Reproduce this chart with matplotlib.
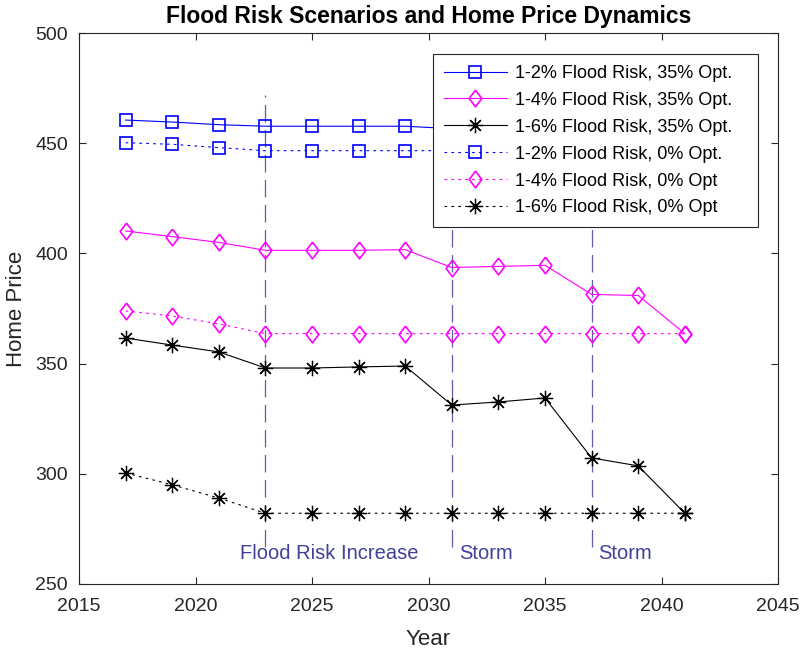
import matplotlib
matplotlib.use("Agg")
import matplotlib.pyplot as plt

plt.rcParams['font.family'] = ['Liberation Sans', 'DejaVu Sans']

years = [2017, 2019, 2021, 2023, 2025, 2027, 2029, 2031, 2033, 2035, 2037, 2039, 2041]

# 35% optimism scenarios
risk2_opt35 = [460.5, 459.6, 458.4, 457.7, 457.7, 457.7, 457.7, 456.6, 456.6, 456.7, 451.5, 451.3, 446.6]
risk4_opt35 = [410.2, 407.6, 405.0, 401.4, 401.4, 401.4, 401.7, 393.6, 394.1, 394.6, 381.4, 380.9, 363.6]
risk6_opt35 = [361.6, 358.4, 355.3, 348.0, 348.0, 348.5, 348.9, 331.2, 332.6, 334.4, 307.2, 303.6, 282.1]

# 0% optimism scenarios
risk2_opt0 = [450.2, 449.5, 448.0, 446.6, 446.6, 446.6, 446.6, 446.6, 446.6, 446.6, 446.6, 446.6, 446.6]
risk4_opt0 = [373.9, 371.6, 368.0, 363.6, 363.6, 363.6, 363.6, 363.6, 363.6, 363.6, 363.6, 363.6, 363.6]
risk6_opt0 = [300.4, 295.0, 289.0, 282.1, 282.1, 282.1, 282.1, 282.1, 282.1, 282.1, 282.1, 282.1, 282.1]

labels = ['1-2% Flood Risk, 35% Opt.', '1-4% Flood Risk, 35% Opt.', '1-6% Flood Risk, 35% Opt.',
          '1-2% Flood Risk, 0% Opt.', '1-4% Flood Risk, 0% Opt', '1-6% Flood Risk, 0% Opt']

event_years = [2023, 2031, 2037]
event_texts = ['Flood Risk Increase', 'Storm', 'Storm']
event_text_x = [2021.9, 2031.3, 2037.3]
event_span = (267, 472)
event_text_y = 264

axis_grey = '#262626'
event_color = '#40409a'
diamond = [(0, 1), (0.76, 0), (0, -1), (-0.76, 0), (0, 1)]
star = (8, 2, 0)
dotted = (0, (2.4, 3.8))

fig = plt.figure(figsize=(8.01, 6.54), dpi=100)
ax = fig.add_axes([79 / 801, 1 - 584 / 654, (778 - 79) / 801, (584 - 33) / 654])

for yr in event_years:
    ax.plot([yr, yr], event_span, color=event_color, lw=0.9, linestyle=(0, (14, 6)), alpha=0.85, zorder=1)

styles = [
    (risk2_opt35, 'blue', 's', 8, '-', 1.2),
    (risk4_opt35, 'magenta', diamond, 12, '-', 1.2),
    (risk6_opt35, 'black', star, 11, '-', 0.9),
    (risk2_opt0, 'blue', 's', 8, dotted, 1.2),
    (risk4_opt0, 'magenta', diamond, 12, dotted, 1.2),
    (risk6_opt0, 'black', star, 11, dotted, 0.9),
]
for (vals, col, mk, ms, ls, mew), lab in zip(styles, labels):
    ax.plot(years, vals, color=col, linestyle=ls, lw=0.8, marker=mk, markersize=ms,
            markerfacecolor='none', markeredgecolor=col, markeredgewidth=mew, label=lab, zorder=3)

for tx, txt in zip(event_text_x, event_texts):
    ax.text(tx, event_text_y, txt, color=event_color, fontsize=14.5, ha='left', va='center')

ax.set_xlim(2015, 2045)
ax.set_ylim(250, 500)
ax.set_xticks(range(2015, 2046, 5))
ax.set_yticks(range(250, 501, 50))
ax.tick_params(direction='in', top=True, right=True, length=5, width=0.8,
               labelsize=14, colors=axis_grey)
ax.tick_params(axis='x', pad=10)
ax.tick_params(axis='y', pad=8)
for sp in ax.spines.values():
    sp.set_color(axis_grey)
    sp.set_linewidth(0.8)

ax.set_xlabel('Year', fontsize=16, color=axis_grey, labelpad=10)
ax.set_ylabel('Home Price', fontsize=16, color=axis_grey, labelpad=6)
ax.set_title('Flood Risk Scenarios and Home Price Dynamics', fontsize=16.5, fontweight='bold', pad=7)

leg = ax.legend(loc='upper left', bbox_to_anchor=(0.5064, 0.6570, 0.4650, 0.3049), mode='expand',
                borderaxespad=0, fontsize=13, handlelength=3.5, handletextpad=0.45,
                labelspacing=0.55, fancybox=False, framealpha=1, edgecolor=axis_grey,
                borderpad=0.6)
leg.get_frame().set_linewidth(0.8)

fig.savefig('out.png', dpi=100)
